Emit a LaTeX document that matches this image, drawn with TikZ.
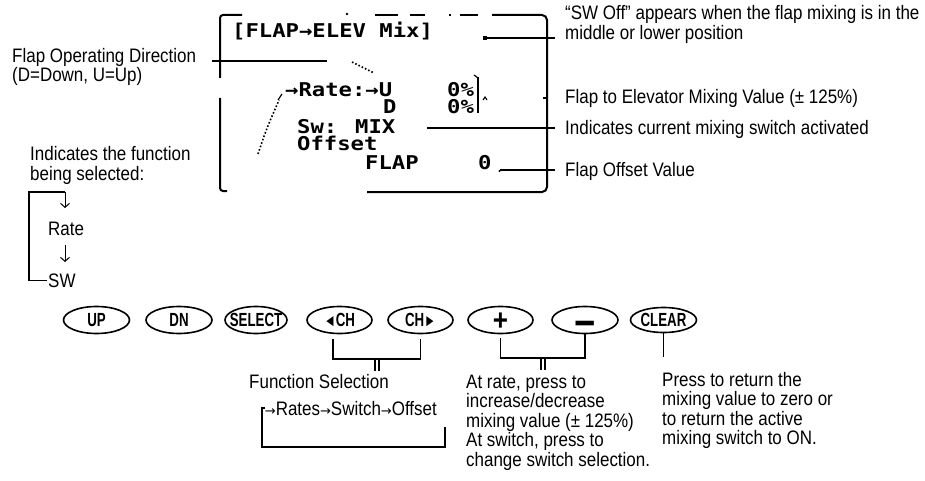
\documentclass[tikz,border=0pt]{standalone}
\usepackage{fontspec}
\setmainfont[FakeStretch=0.87]{Liberation Sans}
\newfontfamily\btnfont[FakeStretch=0.7]{Liberation Sans}
\newfontfamily\lcdfont[FakeStretch=1.17]{DejaVu Sans Mono}
\newfontfamily\arrfont{DejaVu Sans}
\usetikzlibrary{shapes.geometric,arrows.meta}
\newcommand\btnlabel[2]{\makebox[0pt]{\raisebox{-#1}[0pt][0pt]{#2}}}
\newcommand\sarr{{\arrfont\fontsize{13}{13}\selectfont →}}
\begin{document}
\begin{tikzpicture}[x=1pt,y=-1pt,
  lbl/.style={inner sep=0pt, font=\fontsize{19.5}{19.5}\selectfont, align=left},
  lcd/.style={inner sep=0pt, font=\lcdfont\bfseries\fontsize{19}{19}\selectfont},
  lcdframe/.style={line width=2pt},
  conn/.style={line width=1.2pt},
  btn/.style={ellipse, draw, line width=1.6pt, minimum width=66pt, minimum height=27pt, inner sep=0pt, font=\btnfont\bfseries\fontsize{19}{19}\selectfont},
  arr/.style={line width=1pt, -{Straight Barb[length=4pt,width=9pt]}},
]
\useasboundingbox (0,0) rectangle (925,481);

% ---------- LCD frame ----------
\draw[lcdframe, rounded corners=3pt] (220,78) -- (220,15) -- (242,15);
\draw[lcdframe] (375,15) -- (398,15) (410,15) -- (425,15) (449,15) -- (451,15) (460,15) -- (478,15);
\draw[lcdframe, rounded corners=5pt] (492,15) -- (547,15) -- (547,192) -- (367,192);
\draw[lcdframe, rounded corners=3pt] (220,98) -- (220,191) -- (227,191);
\fill (347,14) circle (1.3);

% ---------- LCD texts ----------
\node[lcd, anchor=base west] (title) at (232,38) {[FLAP→ELEV Mix]};
\node[lcd, anchor=base west] (lrate) at (285,97) {→Rate:→U};
\node[lcd, anchor=base west] (lup) at (447,97) {0\%};
\node[lcd, anchor=base west] (ld) at (383,114) {D};
\node[lcd, anchor=base west] (ldn) at (447,114) {0\%};
\node[lcd, anchor=base west] (lsw) at (297,134) {Sw: MIX};
\node[lcd, anchor=base west] (loff) at (297,151) {Offset};
\node[lcd, anchor=base west] (lflap) at (365,169) {FLAP};
\node[lcd, anchor=base west] (lzero) at (478,169) {0};

% small marks inside the LCD
\draw[line width=1.5pt] (478,77) -- (478,113);
\draw[line width=1.2pt] (474,75) -- (478,78);
\draw[line width=1.1pt] (483,100) -- (485,97) -- (487,100);
\draw[line width=1.6pt, dotted] (352,62) -- (374,73);
\draw[line width=1.6pt, dotted] (258,154) .. controls (266,130) .. (279,100);
\draw[line width=1.2pt] (278,100) -- (282,94);

% ---------- right-hand callouts ----------
\node[lbl, anchor=base west] (swoff) at (565,39.5) {“SW Off” appears when the flap mixing is in the\\middle or lower position};
\node[lbl, anchor=base west] (f2e) at (565,104) {Flap to Elevator Mixing Value (± 125\%)};
\node[lbl, anchor=base west] (cur) at (565,135) {Indicates current mixing switch activated};
\node[lbl, anchor=base west] (offv) at (565,176) {Flap Offset Value};

\coordinate (swA) at (485,38);  \coordinate (swB) at (555,38);
\coordinate (f2A) at (543,98);  \coordinate (f2B) at (547,98);
\coordinate (cuA) at (427,128); \coordinate (cuB) at (555,128);
\coordinate (ofA) at (500,170); \coordinate (ofB) at (555,170);
\fill (483,36) rectangle (487,40);
\draw[conn] (swA) -- (swB);
\draw[conn] (f2A) -- (f2B);
\draw[conn] (cuA) -- (cuB);
\draw[conn] (ofA) -- (ofB);
\fill (499.5,171) circle (1.2);

% ---------- left-hand callouts ----------
\node[lbl, anchor=base west] (dir) at (12,82) {Flap Operating Direction\\(D=Down, U=Up)};
\coordinate (dirA) at (212,61); \coordinate (dirB) at (327,61);
\draw[conn] (dirA) -- (dirB);

\node[lbl, anchor=base west] (ind) at (30,180) {Indicates the function\\being selected:};
\node[lbl, anchor=base west] (rate) at (48,235) {Rate};
\node[lbl, anchor=base west] (sw) at (48,287) {SW};
\coordinate (loopTop) at (65,192);
\coordinate (a1) at (65,208);
\coordinate (a2s) at (65,245);
\coordinate (a2e) at (65,262);
\draw[conn] ([xshift=-1pt]sw.west) -| (29,192) -- (loopTop);
\draw[arr] (loopTop) -- (a1);
\draw[arr] (a2s) -- (a2e);

% ---------- buttons ----------
\node[btn] (up) at (96.5,320) {\btnlabel{6.8pt}{UP}};
\node[btn] (dn) at (179,320) {\btnlabel{6.8pt}{DN}};
\node[btn, minimum width=62pt] (sel) at (256,320) {\btnlabel{6.8pt}{SELECT}};
\node[btn, minimum width=65pt] (lch) at (339.5,320) {\btnlabel{6.8pt}{{\fontsize{17}{17}\selectfont ◄}CH}};
\node[btn, minimum width=65pt] (rch) at (420.5,320) {\btnlabel{6.8pt}{CH{\fontsize{17}{17}\selectfont ►}}};
\node[btn, minimum width=65pt] (plus) at (500.5,320) {\btnlabel{10.5pt}{\rmfamily\bfseries\fontsize{30}{30}\selectfont +}};
\node[btn] (minus) at (585,320) {\btnlabel{17pt}{\rmfamily\bfseries\fontsize{42}{42}\selectfont −}};
\node[btn, minimum height=25pt] (clear) at (663.5,320) {\btnlabel{6.8pt}{CLEAR}};

% ---------- bottom explanations ----------
\coordinate (chJ) at (377,359);
\draw[conn] ([xshift=-6.5pt,yshift=-5pt]lch.south) |- (chJ) -| ([yshift=-5pt]rch.south);
\draw[conn] (375,359) -- (375,371) (379,359) -- (379,371);
\node[lbl, anchor=base east] (fsel) at (389,388) {Function Selection};
\node[lbl, anchor=base east] (seq) at (437,415) {\sarr Rates\sarr Switch\sarr Offset};
\draw[conn] (445,427) -- (445,447) -- (262,447) |- (seq.west);

\coordinate (pmJ) at (543,358);
\draw[conn] ([yshift=-4pt]plus.south) |- (pmJ) -| (minus.south);
\draw[conn] (541,358) -- (541,370) (545,358) -- (545,370);
\node[lbl, anchor=base west] (atrate) at (466,466) {At rate, press to\\increase/decrease\\mixing value (± 125\%)\\At switch, press to\\change switch selection.};

\coordinate (clearEnd) at (663.5,357);
\draw[conn] (clear.south) -- (clearEnd);
\node[lbl, anchor=base west] (press) at (662,444.5) {Press to return the\\mixing value to zero or\\to return the active\\mixing switch to ON.};
\end{tikzpicture}
\end{document}
